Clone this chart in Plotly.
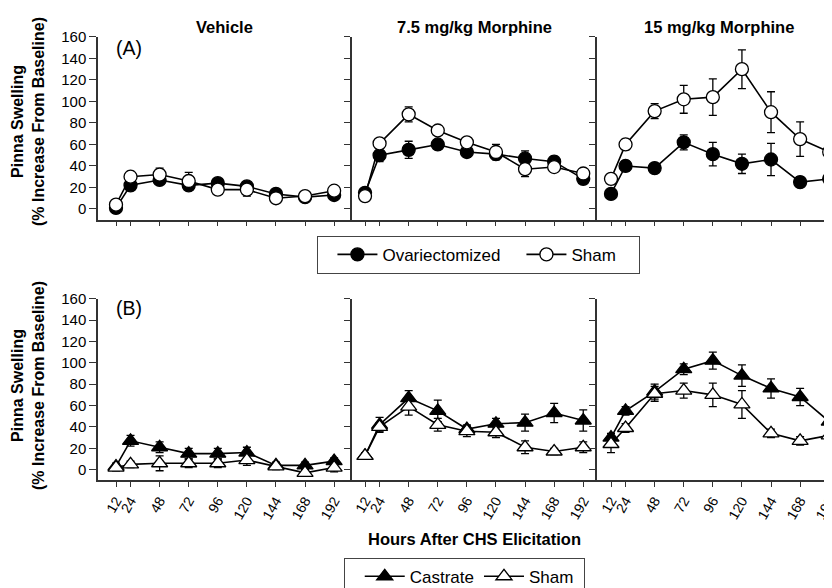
import plotly.graph_objects as go

# ---------------- data ----------------
hours = [12, 24, 48, 72, 96, 120, 144, 168, 192]
hour_labels = ["12", "24", "48", "72", "96", "120", "144", "168", "192"]
panel_titles = ["Vehicle", "7.5 mg/kg Morphine", "15 mg/kg Morphine"]
y_ticks = [0, 20, 40, 60, 80, 100, 120, 140, 160]

# Row A (females)
ovx_vehicle = [1, 22, 27, 22, 24, 21, 14, 11, 13]
ovx_vehicle_err = [5, 4, 4, 4, 3, 3, 3, 2, 3]
sham_f_vehicle = [4, 30, 32, 26, 18, 18, 10, 12, 17]
sham_f_vehicle_err = [3, 5, 6, 8, 4, 6, 3, 3, 3]

ovx_morph75 = [15, 50, 55, 60, 53, 51, 47, 44, 28]
ovx_morph75_err = [3, 6, 8, 4, 5, 5, 7, 5, 4]
sham_f_morph75 = [12, 61, 88, 73, 62, 53, 37, 39, 33]
sham_f_morph75_err = [3, 4, 7, 4, 3, 7, 7, 5, 3]

ovx_morph15 = [14, 40, 38, 62, 51, 42, 46, 25, 28]
ovx_morph15_err = [3, 5, 3, 7, 11, 9, 15, 5, 4]
sham_f_morph15 = [28, 60, 91, 102, 104, 130, 90, 65, 53]
sham_f_morph15_err = [4, 5, 7, 13, 17, 18, 19, 16, 12]

# Row B (males)
castrate_vehicle = [3, 27, 21, 15, 15, 16, 4, 4, 8]
castrate_vehicle_err = [3, 5, 5, 5, 5, 5, 3, 3, 3]
sham_m_vehicle = [2, 5, 6, 6, 6, 9, 3, -3, 2]
sham_m_vehicle_err = [3, 3, 7, 4, 4, 5, 3, 3, 4]

castrate_morph75 = [13, 42, 67, 55, 38, 43, 44, 53, 46]
castrate_morph75_err = [3, 7, 7, 10, 4, 5, 8, 9, 10]
sham_m_morph75 = [13, 40, 59, 42, 36, 35, 21, 17, 21]
sham_m_morph75_err = [3, 4, 8, 6, 5, 5, 6, 3, 5]

castrate_morph15 = [30, 55, 73, 94, 102, 88, 76, 68, 45]
castrate_morph15_err = [4, 4, 7, 5, 8, 10, 9, 8, 4]
sham_m_morph15 = [24, 39, 71, 74, 70, 61, 34, 27, 32]
sham_m_morph15_err = [8, 4, 7, 7, 11, 13, 4, 4, 4]

# ---------------- layout geometry (screen pixels) ----------------
W, H = 832, 588
OFF = 8  # page body margin
FONT = "Liberation Sans, Arial, Helvetica, sans-serif"
AX = "#333333"

def px_x(p):
    return (p - OFF) / W

def px_y(p):
    return 1 - (p - OFF) / H

x_domains = [
    [px_x(98), px_x(351.7)],
    [px_x(351.7), px_x(596.7)],
    [px_x(596.7), 1.0],
]
x_ranges = [[-2.85, 206.5], [1.0, 203.1], [0.2, 200.9]]
row_domains = [
    [px_y(214.6), px_y(28.3)],
    [px_y(480.2), px_y(295.0)],
]

fig = go.Figure()

female = [
    (ovx_vehicle, ovx_vehicle_err, sham_f_vehicle, sham_f_vehicle_err),
    (ovx_morph75, ovx_morph75_err, sham_f_morph75, sham_f_morph75_err),
    (ovx_morph15, ovx_morph15_err, sham_f_morph15, sham_f_morph15_err),
]
male = [
    (castrate_vehicle, castrate_vehicle_err, sham_m_vehicle, sham_m_vehicle_err),
    (castrate_morph75, castrate_morph75_err, sham_m_morph75, sham_m_morph75_err),
    (castrate_morph15, castrate_morph15_err, sham_m_morph15, sham_m_morph15_err),
]

def err(a):
    return dict(type="data", array=a, visible=True, color="black", thickness=1.3, width=4)

for row, (groups, sym, size, names, leg, lw) in enumerate([
    (female, "circle", 13, ["Ovariectomized", "Sham"], "legend", [134, 62]),
    (male, "triangle-up", 14, ["Castrate", "Sham"], "legend2", [None, 50]),
]):
    for col in range(3):
        idx = row * 3 + col + 1
        xa = "x" if idx == 1 else f"x{idx}"
        ya = "y" if idx == 1 else f"y{idx}"
        a, ae, b, be = groups[col]
        fig.add_trace(go.Scatter(
            x=hours, y=a, error_y=err(ae), mode="lines+markers",
            name=names[0], legend=leg, showlegend=(col == 0), legendwidth=lw[0],
            line=dict(color="black", width=1.6),
            marker=dict(symbol=sym, size=size, color="black", line=dict(color="black", width=1.3)),
            xaxis=xa, yaxis=ya, cliponaxis=False,
        ))
        fig.add_trace(go.Scatter(
            x=hours, y=b, error_y=err(be), mode="lines+markers",
            name=names[1], legend=leg, showlegend=(col == 0), legendwidth=lw[1],
            line=dict(color="black", width=1.6),
            marker=dict(symbol=sym, size=size, color="white", line=dict(color="black", width=1.3)),
            xaxis=xa, yaxis=ya, cliponaxis=False,
        ))

layout = dict(
    width=W, height=H,
    margin=dict(l=0, r=0, t=0, b=0),
    paper_bgcolor="white", plot_bgcolor="white",
    font=dict(family=FONT, size=15, color="black"),
)

extra = 7
for row in range(2):
    for col in range(3):
        idx = row * 3 + col + 1
        xk = "xaxis" if idx == 1 else f"xaxis{idx}"
        yk = "yaxis" if idx == 1 else f"yaxis{idx}"
        ya = "y" if idx == 1 else f"y{idx}"
        xa = "x" if idx == 1 else f"x{idx}"
        layout[xk] = dict(
            domain=x_domains[col], range=x_ranges[col], anchor=ya,
            tickmode="array", tickvals=hours,
            ticktext=hour_labels, showticklabels=(row == 1),
            tickangle=-60, tickfont=dict(size=14),
            ticks="outside", ticklen=5, tickwidth=1.3, tickcolor=AX,
            showline=True, linecolor=AX, linewidth=1.5,
            showgrid=False, zeroline=False, fixedrange=True,
        )
        layout[yk] = dict(
            domain=row_domains[row], range=[-10, 160], anchor=xa,
            tickmode="array", tickvals=y_ticks,
            showticklabels=(col == 0), tickfont=dict(size=15),
            ticks="outside", ticklen=(7 if col == 0 else 6), tickwidth=1.3, tickcolor=AX,
            showline=True, linecolor=AX, linewidth=1.5,
            showgrid=False, zeroline=False, fixedrange=True,
        )
        if col > 0:
            ek = f"yaxis{extra}"
            layout[ek] = dict(
                overlaying=ya, anchor=xa, side="left", range=[-10, 160],
                tickmode="array", tickvals=y_ticks, showticklabels=False,
                ticks="inside", ticklen=6, tickwidth=1.3, tickcolor=AX,
                showline=False, showgrid=False, zeroline=False, fixedrange=True,
            )
            extra += 1

fig.update_layout(**layout)

annotations = []
centers = [(98 + 351.7) / 2, (351.7 + 596.7) / 2, (596.7 + 842) / 2]
for c, t in zip(centers, panel_titles):
    annotations.append(dict(
        text=f"<b>{t}</b>", x=px_x(c), y=px_y(18), xref="paper", yref="paper",
        xanchor="center", yanchor="middle", showarrow=False, font=dict(size=16.5),
    ))
for lbl, yc in [("(A)", 40), ("(B)", 305)]:
    annotations.append(dict(
        text=lbl, x=px_x(114), y=px_y(yc), xref="paper", yref="paper",
        xanchor="left", yanchor="middle", showarrow=False, font=dict(size=19.5),
    ))
for yc in [115, 384]:
    annotations.append(dict(
        text="<b>Pinna Swelling<br>(% Increase From Baseline)</b>",
        x=px_x(28), y=px_y(yc), xref="paper", yref="paper",
        xanchor="center", yanchor="middle", showarrow=False, textangle=-90,
        font=dict(size=16),
    ))
annotations.append(dict(
    text="<b>Hours After CHS Elicitation</b>", x=px_x(474), y=px_y(540),
    xref="paper", yref="paper", xanchor="center", yanchor="middle",
    showarrow=False, font=dict(size=16.5),
))
fig.update_layout(annotations=annotations)

pad = "\u00a0"
fig.update_layout(
    legend=dict(
        orientation="h", x=px_x(316.7), y=px_y(231), xanchor="left", yanchor="top",
        bordercolor="#444444", borderwidth=1, bgcolor="white",
        font=dict(size=17), itemwidth=40,
        title=dict(text=pad, side="left", font=dict(size=17)),
        itemclick=False, itemdoubleclick=False,
    ),
    legend2=dict(
        orientation="h", x=px_x(344), y=px_y(559), xanchor="left", yanchor="top",
        bordercolor="#444444", borderwidth=1, bgcolor="white",
        font=dict(size=17), itemwidth=40,
        title=dict(text=pad, side="left", font=dict(size=17)),
        itemclick=False, itemdoubleclick=False,
    ),
)

fig.write_html("out.html")
